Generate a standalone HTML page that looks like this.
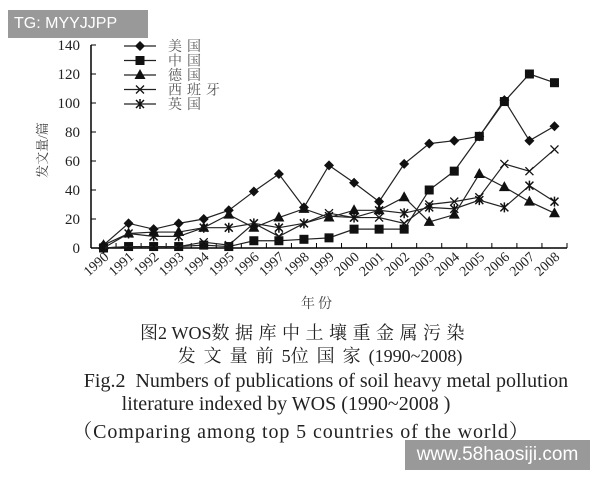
<!DOCTYPE html>
<html><head><meta charset="utf-8"><style>
body{margin:0;background:#fff;width:600px;height:480px;overflow:hidden;position:relative;font-family:"Liberation Serif","Noto Serif CJK SC",serif;}
.cap{position:absolute;left:0;width:600px;text-align:center;color:#222;white-space:nowrap}
.l{letter-spacing:0}
</style></head><body>
<svg id="chart" width="600" height="480" style="position:absolute;left:0;top:0" font-family="Liberation Serif, Noto Serif CJK SC, serif"></svg>
<div style="position:absolute;left:8px;top:10px;width:140px;height:28px;background:#999;color:#fff;font:16px 'Liberation Sans',sans-serif;line-height:28px;padding-left:6px;box-sizing:border-box">TG: MYYJJPP</div>
<div class="cap" style="top:319px;font-size:18px;left:5px;letter-spacing:5.5px"><span class="l">图2 WOS</span>数据库中土壤重金属污染</div>
<div class="cap" style="top:342px;font-size:18px;left:20px;letter-spacing:8px">发文量前<span class="l">5</span>位国家<span class="l">(1990~2008)</span></div>
<div class="cap" style="top:370px;font-size:20px;left:26px">Fig.2&nbsp; Numbers of publications of soil heavy metal pollution</div>
<div class="cap" style="top:393px;font-size:20px;left:-14px">literature indexed by WOS (1990~2008 )</div>
<div class="cap" style="top:415px;font-size:20px;left:1px;letter-spacing:0.9px">（Comparing among top 5 countries of the world）</div>
<div style="position:absolute;left:405px;top:440px;width:185px;height:30px;background:#999;color:#fff;font:19px 'Liberation Sans',sans-serif;line-height:30px;text-align:center">www.58haosiji.com</div>
<script>
const years=["1990","1991","1992","1993","1994","1995","1996","1997","1998","1999","2000","2001","2002","2003","2004","2005","2006","2007","2008"];
const usa=[2,17,13,17,20,26,39,51,28,57,45,32,58,72,74,77,102,74,84];
const china=[0,1,1,1,2,1,5,5,6,7,13,13,13,40,53,77,101,120,114];
const germany=[2,10,11,11,14,23,14,21,27,21,26,26,35,18,23,51,42,32,24];
const spain=[0,1,1,1,4,2,17,8,17,24,21,21,17,30,32,35,58,53,68];
const uk=[0,10,8,8,14,14,17,14,17,22,21,26,24,28,27,33,28,43,32];
const yTicks=[0,20,40,60,80,100,120,140];
const seriesNames=["美国","中国","德国","西班牙","英国"];
const svg=document.getElementById('chart');
const NS='http://www.w3.org/2000/svg';
function mk(t,a,p){const e=document.createElementNS(NS,t);for(const k in a)e.setAttribute(k,a[k]);(p||svg).appendChild(e);return e;}
const x0=91,x1=567,yb=248,yt=45;
const step=(x1-x0)/years.length;
function X(i){return x0+step*(i+0.5);}
function Y(v){return yb-(v/140)*(yb-yt);}
let e;
e=mk('line',{x1:x0,y1:yt,x2:x0,y2:yb,stroke:'#000','stroke-width':1.5});


e=mk('line',{x1:x0,y1:yb,x2:x1,y2:yb,stroke:'#000','stroke-width':1.5});


yTicks.forEach(v=>{
 mk('line',{x1:x0,y1:Y(v),x2:x0+5,y2:Y(v),stroke:'#000'});
 e=mk('text',{x:x0-11,y:Y(v)+5,'text-anchor':'end','font-size':15,fill:'#222'});
 e.textContent=v;
 
 
});
for(let i=0;i<=years.length;i++){mk('line',{x1:x0+step*i,y1:yb,x2:x0+step*i,y2:yb-5,stroke:'#000'});}
years.forEach((yr,i)=>{
 e=mk('text',{x:X(i)+6,y:yb+10,'text-anchor':'end','font-size':14,fill:'#222',transform:`rotate(-42 ${X(i)+6} ${yb+10})`});
 e.textContent=yr;
 
 
});
e=mk('text',{x:318,y:308,'text-anchor':'middle','font-size':14,fill:'#444','letter-spacing':'3'});e.textContent='年份';


e=mk('text',{x:47,y:150,'text-anchor':'middle','font-size':13,fill:'#444',transform:'rotate(-90 47 150)'});e.textContent='发文量/篇';


function marker(kind,cx,cy,g){
 if(kind==0)mk('polygon',{points:`${cx},${cy-5} ${cx+5},${cy} ${cx},${cy+5} ${cx-5},${cy}`,fill:'#111'},g);
 else if(kind==1)mk('rect',{x:cx-4.5,y:cy-4.5,width:9,height:9,fill:'#111'},g);
 else if(kind==2)mk('polygon',{points:`${cx},${cy-6} ${cx+5.5},${cy+4} ${cx-5.5},${cy+4}`,fill:'#111'},g);
 else if(kind==3){mk('path',{d:`M${cx-4},${cy-4}L${cx+4},${cy+4}M${cx-4},${cy+4}L${cx+4},${cy-4}`,stroke:'#111','stroke-width':1.3},g);}
 else {mk('path',{d:`M${cx-4},${cy-4}L${cx+4},${cy+4}M${cx-4},${cy+4}L${cx+4},${cy-4}M${cx},${cy-5}L${cx},${cy+5}`,stroke:'#111','stroke-width':1.5},g);}
}
const all=[usa,china,germany,spain,uk];
const snames=['series-usa','series-china','series-germany','series-spain','series-uk'];
all.forEach((d,k)=>{
 const g=mk('g',{});
 
 
 mk('polyline',{points:d.map((v,i)=>X(i)+','+Y(v)).join(' '),fill:'none',stroke:'#222','stroke-width':1.2},g);
 d.forEach((v,i)=>marker(k,X(i),Y(v),g));
});
seriesNames.forEach((n,k)=>{
 const g=mk('g',{});
 
 
 const y=46+k*14.5;
 mk('line',{x1:124,y1:y,x2:156,y2:y,stroke:'#222','stroke-width':1.2},g);
 marker(k,140,y,g);
 const t=mk('text',{x:168,y:y+5,'font-size':14,fill:'#555','letter-spacing':'5'},g);t.textContent=n;
});
</script>
</body></html>
